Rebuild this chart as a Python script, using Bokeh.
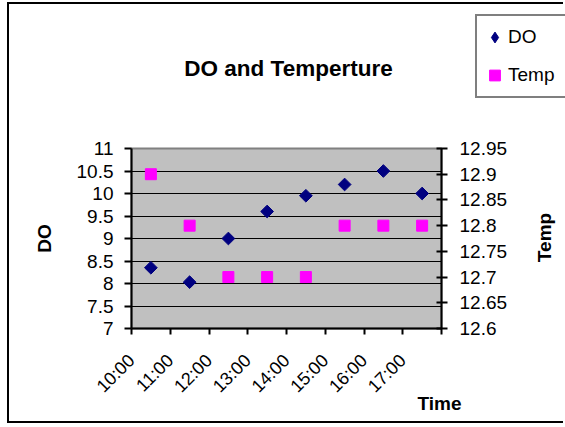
import math
from bokeh.plotting import figure
from bokeh.models import Range1d, LinearAxis, FixedTicker, Legend, LegendItem, Label
from bokeh.embed import file_html
from bokeh.resources import INLINE

# ---- data ----
times = ["10:00", "11:00", "12:00", "13:00", "14:00", "15:00", "16:00", "17:00"]
do_values = [8.35, 8.03, 9.0, 9.6, 9.95, 10.2, 10.5, 10.0]
temp_values = [12.9, 12.8, 12.7, 12.7, 12.7, 12.8, 12.8, 12.8]
do_ticks = [7, 7.5, 8, 8.5, 9, 9.5, 10, 10.5, 11]
do_tick_labels = ["7", "7.5", "8", "8.5", "9", "9.5", "10", "10.5", "11"]
temp_ticks = [12.6, 12.65, 12.7, 12.75, 12.8, 12.85, 12.9, 12.95]
temp_tick_labels = ["12.6", "12.65", "12.7", "12.75", "12.8", "12.85", "12.9", "12.95"]
title_text = "DO and Temperture"
x_title = "Time"
y_title = "DO"
y2_title = "Temp"

FONT = "Liberation Sans"
W, H = 556, 421
n = len(times)
xc = [i + 0.5 for i in range(n)]

NAVY = "#000080"
MAGENTA = "#FF00FF"
DO_STYLE = dict(marker="square", angle=math.pi / 4, size=9, fill_color=NAVY, line_color=NAVY)
T_STYLE = dict(marker="square", size=11, fill_color=MAGENTA, line_color=MAGENTA)

# ---- main plot ----
p = figure(width=W, height=H, output_backend="svg", toolbar_location=None,
           x_range=Range1d(0, n), y_range=Range1d(7, 11),
           min_border_left=122, min_border_right=124, min_border_top=144, min_border_bottom=97,
           background_fill_color="#C0C0C0", border_fill_color="white")
p.styles = {"margin-left": "7px", "margin-top": "2px",
            "border-top": "2px solid black", "border-left": "2px solid black",
            "border-bottom": "2px solid black"}
p.outline_line_color = "#808080"
p.outline_line_width = 2
p.extra_y_ranges = {"temp": Range1d(12.6, 12.95)}

p.xaxis.visible = False
p.yaxis.visible = False
p.xgrid.visible = False
p.ygrid.ticker = FixedTicker(ticks=do_ticks)
p.ygrid.grid_line_color = "black"
p.ygrid.grid_line_width = 1

# category labels anchored at the left edge of each category (as the rotated labels sit)
xlab_ticks = [c - 0.5 for c in xc]
xaxis = LinearAxis(ticker=FixedTicker(ticks=xlab_ticks, minor_ticks=list(range(n + 1))),
                   major_label_overrides={t: s for t, s in zip(xlab_ticks, times)},
                   major_label_orientation=math.pi / 4,
                   major_tick_in=0, major_tick_out=0,
                   minor_tick_in=0, minor_tick_out=6,
                   minor_tick_line_color="black", minor_tick_line_width=2,
                   axis_line_color="black", axis_line_width=2,
                   major_label_standoff=23,
                   major_label_text_font=FONT, major_label_text_font_size="18px",
                   major_label_text_color="black")
p.add_layout(xaxis, "below")

yaxis = LinearAxis(ticker=FixedTicker(ticks=do_ticks),
                   major_label_overrides={t: s for t, s in zip(do_ticks, do_tick_labels)},
                   major_tick_in=0, major_tick_out=7, minor_tick_out=0, minor_tick_in=0,
                   major_tick_line_color="black", major_tick_line_width=2,
                   axis_line_color="black", axis_line_width=2,
                   major_label_standoff=11,
                   major_label_text_font=FONT, major_label_text_font_size="19px",
                   major_label_text_color="black")
p.add_layout(yaxis, "left")

y2axis = LinearAxis(y_range_name="temp", ticker=FixedTicker(ticks=temp_ticks),
                    major_label_overrides={t: s for t, s in zip(temp_ticks, temp_tick_labels)},
                    major_tick_in=5, major_tick_out=6, minor_tick_out=0, minor_tick_in=0,
                    major_tick_line_color="black", major_tick_line_width=2,
                    axis_line_color="black", axis_line_width=2,
                    major_label_standoff=12,
                    major_label_text_font=FONT, major_label_text_font_size="19px",
                    major_label_text_color="black")
p.add_layout(y2axis, "right")

p.scatter(xc, do_values, **DO_STYLE)
p.scatter(xc, temp_values, y_range_name="temp", **T_STYLE)

# ---- transparent overlay (separate root) for titles and legend outside the plot area ----
q = figure(width=W, height=H, output_backend="svg", toolbar_location=None,
           x_range=Range1d(0, W), y_range=Range1d(0, H), min_border=0,
           x_axis_type=None, y_axis_type=None,
           background_fill_alpha=0, border_fill_alpha=0, outline_line_color=None)
q.title.visible = False
q.grid.visible = False
q.styles = {"position": "absolute", "left": "9px", "top": "4px"}

# legend-only renderers (hidden; they only supply the legend swatches)
l_do = q.scatter(xc, do_values, visible=False, marker="diamond", size=9,
                 fill_color=NAVY, line_color=NAVY)
l_t = q.scatter(xc, temp_values, visible=False, **T_STYLE)
legend = Legend(items=[LegendItem(label="DO", renderers=[l_do]),
                       LegendItem(label="Temp", renderers=[l_t])],
                location=(466, 327), orientation="vertical",
                border_line_color="black", border_line_width=2,
                background_fill_color="white", background_fill_alpha=1,
                padding=4, spacing=4, margin=0,
                glyph_width=27, glyph_height=34, label_height=34, label_width=55,
                label_standoff=0,
                label_text_font=FONT, label_text_font_size="19px",
                label_text_color="black")
q.add_layout(legend, "center")

def lab(x, y, text, size, angle=0.0):
    q.add_layout(Label(x=x, y=y, x_units="screen", y_units="screen", text=text,
                       angle=angle, text_font=FONT, text_font_size=size,
                       text_font_style="bold", text_align="center",
                       text_baseline="middle", text_color="black"))

lab(279, 357, title_text, "22.5px")
lab(430, 22, x_title, "19px")
lab(35, 187, y_title, "19px", math.pi / 2)
lab(535, 188, y2_title, "19px", math.pi / 2)

open("out.html", "w").write(file_html((p, q), INLINE))
